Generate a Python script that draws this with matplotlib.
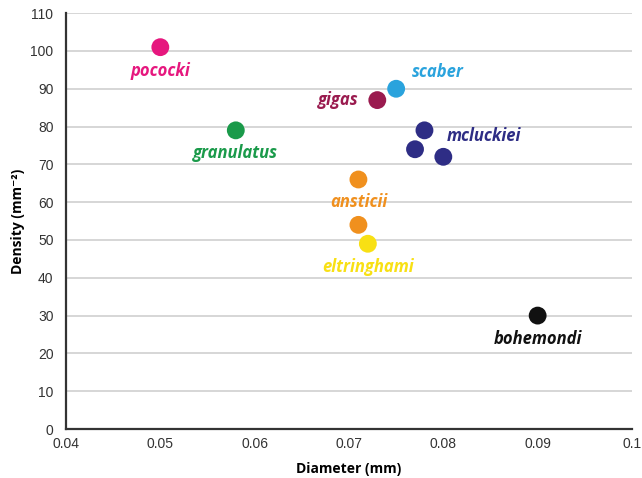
import matplotlib
matplotlib.use("Agg")
import matplotlib.pyplot as plt

species = ["pococki", "granulatus", "gigas", "scaber", "mcluckiei", "mcluckiei", "mcluckiei",
           "ansticii", "ansticii", "eltringhami", "bohemondi"]
diameter = [0.050, 0.058, 0.073, 0.075, 0.078, 0.077, 0.080, 0.071, 0.071, 0.072, 0.090]
density = [101, 79, 87, 90, 79, 74, 72, 66, 54, 49, 30]
colors = ["#e6177e", "#1a9a4a", "#9a1b4f", "#2aa3dd", "#2e2d85", "#2e2d85", "#2e2d85",
          "#f0901e", "#f0901e", "#f8e014", "#111111"]

label_names = ["pococki", "granulatus", "gigas", "scaber", "mcluckiei", "ansticii", "eltringhami", "bohemondi"]
label_x = [0.050, 0.058, 0.073, 0.075, 0.078, 0.071, 0.072, 0.090]
label_y = [101, 79, 87, 90, 79, 66, 49, 30]
label_colors = ["#e6177e", "#1a9a4a", "#9a1b4f", "#2aa3dd", "#2e2d85", "#f0901e", "#f8e014", "#111111"]
label_offsets = [(0, -17), (0, -16), (-28, 0), (30, 12), (43, -4), (0, -16), (0, -17), (0, -17)]

fig = plt.figure(figsize=(6.42, 4.78), dpi=100)
ax = fig.add_axes([0.1028, 0.1025, 0.8816, 0.8700])

ax.scatter(diameter, density, s=165, c=colors, zorder=3, linewidths=0)

for name, x, y, c, (dx, dy) in zip(label_names, label_x, label_y, label_colors, label_offsets):
    ax.annotate(name, (x, y), xytext=(dx, dy), textcoords="offset points",
                ha="center", va="center", color=c, fontsize=12,
                fontweight="bold", fontstyle="italic", family=["Open Sans", "DejaVu Sans"], zorder=4)

ax.set_xlim(0.04, 0.1)
ax.set_ylim(0, 110)
ax.set_xticks([0.04, 0.05, 0.06, 0.07, 0.08, 0.09, 0.1])
ax.set_xticklabels(["0.04", "0.05", "0.06", "0.07", "0.08", "0.09", "0.1"])
ax.set_yticks(range(0, 111, 10))
ax.yaxis.grid(True, color="#d0d0d0", linewidth=1.2)
ax.set_axisbelow(True)
for s in ["top", "right"]:
    ax.spines[s].set_visible(False)
for s in ["left", "bottom"]:
    ax.spines[s].set_color("#333333")
    ax.spines[s].set_linewidth(1.6)
ax.tick_params(axis="x", length=0, labelsize=10, colors="#333333", pad=6)
ax.tick_params(axis="y", length=0, labelsize=10, colors="#333333", pad=9)
for lab in ax.get_xticklabels() + ax.get_yticklabels():
    lab.set_family(["Liberation Sans", "DejaVu Sans"])

ax.set_xlabel("Diameter (mm)", fontsize=10, fontweight="bold", family=["Open Sans", "DejaVu Sans"], labelpad=8)
ax.set_ylabel("Density (mm⁻²)", fontsize=10, fontweight="bold", family=["Open Sans", "DejaVu Sans"], labelpad=4)

fig.savefig("out.png", dpi=100)
